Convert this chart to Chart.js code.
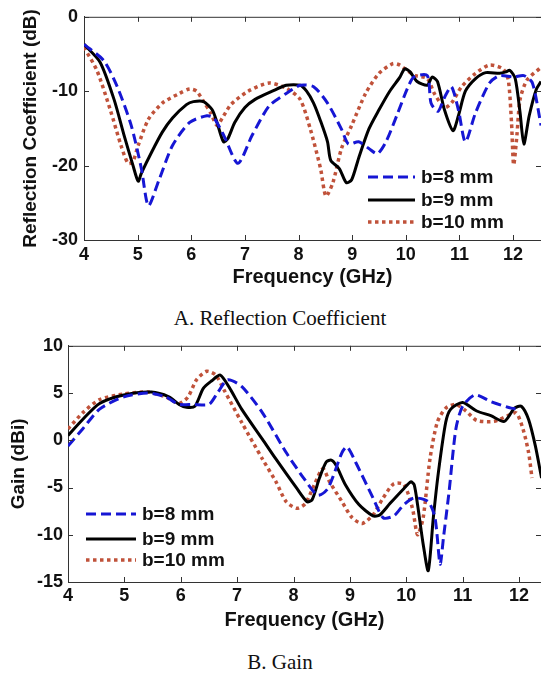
<!DOCTYPE html>
<html>
<head>
<meta charset="utf-8">
<script src="https://cdn.jsdelivr.net/npm/chart.js"></script>
<style>
  html, body { margin: 0; padding: 0; background: #fff; overflow: hidden; }
  body { width: 541px; height: 673px; position: relative; }
  canvas { position: absolute; left: 0; }
  .caption {
    position: absolute; left: 0; width: 560px; text-align: center;
    font-family: "Liberation Serif", serif; font-size: 21px; line-height: 24px; color: #111;
  }
</style>
</head>
<body>
<canvas id="s11Chart" width="541" height="290" style="top:0px"></canvas>
<div class="caption" style="top:306px">A. Reflection Coefficient</div>
<canvas id="gainChart" width="541" height="302" style="top:330px"></canvas>
<div class="caption" style="top:650px">B. Gain</div>

<script>
// series labels
const seriesLabels = ["b=8 mm", "b=9 mm", "b=10 mm"];

// reflection coefficient (dB) vs frequency (GHz)
const s11Freq8 = [4, 4.37, 4.62, 4.88, 5.07, 5.2, 5.39, 5.65, 5.97, 6.29, 6.42, 6.61, 6.87, 7.13, 7.45, 7.77, 8.03, 8.28, 8.54, 8.8, 8.93, 9.12, 9.31, 9.47, 9.63, 9.83, 10.02, 10.15, 10.4, 10.47, 10.6, 10.73, 10.85, 10.98, 11.11, 11.3, 11.56, 11.75, 12.01, 12.2, 12.36, 12.52];
const s11Val8 = [-3.7, -5.9, -9.4, -14.6, -20.4, -25.4, -22.1, -17.3, -14.2, -13.3, -13.6, -16, -19.7, -16, -12, -10.3, -9.2, -9.4, -11.6, -15.1, -17.1, -16.8, -17.7, -18.4, -16.8, -13.3, -9.8, -8.1, -7.9, -11.6, -12.7, -10.7, -9.4, -12.5, -16.8, -12.9, -8.9, -7.9, -8.1, -7.9, -8.9, -14.6];

const s11Freq9 = [4, 4.3, 4.56, 4.75, 4.91, 5.01, 5.07, 5.26, 5.46, 5.65, 5.91, 6.04, 6.23, 6.39, 6.48, 6.6, 6.68, 6.81, 7.0, 7.19, 7.51, 7.77, 8.03, 8.15, 8.28, 8.41, 8.54, 8.6, 8.76, 8.89, 8.99, 9.12, 9.31, 9.5, 9.7, 9.89, 9.98, 10.08, 10.21, 10.4, 10.49, 10.59, 10.72, 10.88, 10.98, 11.11, 11.3, 11.49, 11.75, 11.87, 11.94, 12.04, 12.13, 12.2, 12.3, 12.43, 12.52];
const s11Val9 = [-3.7, -6.1, -11.1, -16, -19.9, -22.1, -21, -18.2, -15.5, -13.6, -11.8, -11.4, -11.4, -12.5, -14.2, -16.8, -16.4, -14.2, -12.2, -11.1, -10, -9.2, -9.2, -10, -11.6, -14, -16.8, -19.3, -20.4, -22.3, -21.9, -19, -15.1, -12.5, -10, -8.1, -7, -7.4, -8.7, -9.2, -8.1, -8.7, -12.5, -15.3, -13.3, -10, -8.3, -7.5, -7.6, -7.4, -7.2, -8.3, -12.9, -17.1, -13.3, -9.8, -8.7];

const s11Freq10 = [4, 4.24, 4.49, 4.69, 4.82, 4.91, 5.01, 5.2, 5.46, 5.78, 5.97, 6.1, 6.23, 6.36, 6.48, 6.58, 6.74, 7.06, 7.45, 7.77, 8.03, 8.22, 8.41, 8.51, 8.64, 8.8, 8.99, 9.25, 9.5, 9.76, 9.89, 10.02, 10.18, 10.4, 10.53, 10.72, 10.85, 11.04, 11.3, 11.56, 11.81, 11.91, 11.97, 12.01, 12.07, 12.13, 12.26, 12.52];
const s11Val10 = [-4.1, -7.2, -12.5, -17.3, -19.7, -19.5, -17.3, -13.8, -11.6, -10.3, -9.7, -10, -11.4, -12.9, -14.6, -13.6, -11.8, -10, -8.9, -9.6, -11.1, -15.1, -20.4, -24.1, -22.3, -17.7, -14.6, -10.3, -7.6, -6.3, -6.5, -7.2, -7.9, -8.3, -10.3, -12.2, -11.6, -9.4, -7.6, -6.5, -7, -8.5, -14.2, -19.9, -16, -11.1, -8.5, -6.8];

// gain (dBi) vs frequency (GHz)
const gainFreq8 = [4, 4.26, 4.56, 4.99, 5.42, 5.73, 5.97, 6.22, 6.5, 6.65, 6.83, 7.08, 7.45, 7.87, 8.18, 8.43, 8.61, 8.86, 8.95, 9.1, 9.41, 9.59, 9.78, 9.96, 10.14, 10.39, 10.51, 10.6, 10.66, 10.76, 10.88, 11.0, 11.22, 11.5, 11.86, 12.02];
const gainVal8 = [-0.6, 1.2, 3.3, 4.6, 5, 4.6, 3.8, 3.8, 3.8, 5, 6.4, 5.7, 2.9, -1.3, -4, -5.8, -5.1, -1.3, -0.7, -2.3, -6.1, -8.2, -8, -6.8, -6.1, -6.5, -8.2, -13.1, -10.3, -5.4, 1.2, 3.6, 4.8, 4.1, 3.4, 3.3];

const gainFreq9 = [4, 4.26, 4.56, 4.99, 5.48, 5.79, 5.97, 6.1, 6.25, 6.4, 6.55, 6.7, 6.86, 7.08, 7.45, 7.69, 8.06, 8.24, 8.33, 8.46, 8.58, 8.67, 8.76, 8.92, 9.16, 9.41, 9.53, 9.71, 9.96, 10.08, 10.14, 10.2, 10.3, 10.39, 10.48, 10.57, 10.7, 10.79, 11.0, 11.25, 11.5, 11.74, 11.92, 12.04, 12.17, 12.29, 12.4];
const gainVal9 = [0.5, 2.2, 3.9, 4.8, 5.1, 4.6, 3.8, 3.5, 3.6, 5.5, 6.3, 6.9, 5.6, 3.3, 0.1, -2, -5.1, -6.5, -6.3, -4, -2.3, -2.1, -2.7, -4.7, -6.8, -8, -7.9, -6.7, -5.1, -4.4, -4.7, -6.8, -11, -13.8, -8.2, -3.4, 1.9, 3.3, 4, 3.1, 2.6, 2, 3.4, 3.6, 2.2, -0.6, -4];

const gainFreq10 = [4, 4.26, 4.56, 4.99, 5.42, 5.73, 5.97, 6.13, 6.28, 6.46, 6.62, 6.77, 7.08, 7.45, 7.69, 7.87, 8.06, 8.21, 8.37, 8.52, 8.64, 8.86, 9.04, 9.22, 9.41, 9.59, 9.78, 9.96, 10.11, 10.2, 10.3, 10.42, 10.55, 10.7, 10.88, 11.06, 11.25, 11.56, 11.8, 11.95, 12.07, 12.17, 12.23];
const gainVal10 = [1.2, 2.9, 4.3, 4.9, 5.1, 4.6, 3.9, 4.6, 6.4, 7.3, 6.9, 5.3, 1.9, -2, -4.4, -6.5, -7.2, -6.7, -4.7, -3, -4.4, -6.5, -8.2, -8.8, -7.9, -6.1, -4.6, -4.7, -7.2, -10, -8.2, -2, 1.9, 3.4, 3.8, 3.1, 2.1, 2, 2.6, 2.9, 1.2, -1.3, -4];

const BLUE = "#1616d4";
const BLACK = "#000000";
const RED = "rgb(192, 82, 58)";
const FONT = "'Liberation Sans', Arial, sans-serif";

function pts(fs, vs) {
	return fs.map((f, i) => ({ x: f, y: vs[i] }));
}

function makeDatasets(f8, v8, f9, v9, f10, v10) {
	return [
		{ label: seriesLabels[0], data: pts(f8, v8), borderColor: BLUE, borderWidth: 3, borderDash: [10, 5] },
		{ label: seriesLabels[1], data: pts(f9, v9), borderColor: BLACK, borderWidth: 3 },
		{ label: seriesLabels[2], data: pts(f10, v10), borderColor: RED, borderWidth: 3.5, borderDash: [3.5, 3.5] },
	].map(d => Object.assign(d, { pointRadius: 0, tension: 0.25, fill: false, borderCapStyle: "butt" }));
}

// matlab style box: top line + inward ticks on all sides
const frameTicks = {
	id: "frameTicks",
	afterDraw(chart) {
		const { ctx, chartArea: a, scales: { x, y } } = chart;
		ctx.save();
		ctx.strokeStyle = "#333";
		ctx.lineWidth = 1;
		ctx.beginPath();
		ctx.moveTo(a.left, a.top + 0.5);
		ctx.lineTo(a.right, a.top + 0.5);
		x.ticks.forEach(t => {
			const px = Math.round(x.getPixelForValue(t.value)) + 0.5;
			ctx.moveTo(px, a.bottom); ctx.lineTo(px, a.bottom - 5);
			ctx.moveTo(px, a.top); ctx.lineTo(px, a.top + 5);
		});
		y.ticks.forEach(t => {
			const py = Math.round(y.getPixelForValue(t.value)) + 0.5;
			ctx.moveTo(a.left, py); ctx.lineTo(a.left + 5, py);
			ctx.moveTo(a.right, py); ctx.lineTo(a.right - 5, py);
		});
		ctx.stroke();
		ctx.restore();
	}
};

// legend drawn inside the axes, no box
const innerLegend = {
	id: "innerLegend",
	afterDraw(chart, args, opts) {
		const ctx = chart.ctx;
		ctx.save();
		ctx.font = "bold 19px " + FONT;
		ctx.textBaseline = "middle";
		chart.data.datasets.forEach((ds, i) => {
			const yy = opts.rows[i];
			ctx.beginPath();
			ctx.strokeStyle = ds.borderColor;
			ctx.lineWidth = ds.borderWidth;
			ctx.setLineDash(ds.borderDash || []);
			ctx.moveTo(opts.x1, yy);
			ctx.lineTo(opts.x2, yy);
			ctx.stroke();
			ctx.setLineDash([]);
			ctx.fillStyle = "#111";
			ctx.fillText(ds.label, opts.tx, yy + 1);
		});
		ctx.restore();
	}
};

function makeOptions(cfg) {
	return {
		responsive: false,
		animation: false,
		layout: { padding: { top: 12, left: 0, right: 0, bottom: 0 } },
		plugins: {
			legend: { display: false },
			tooltip: { enabled: false },
			innerLegend: cfg.legend
		},
		scales: {
			x: {
				type: "linear",
				min: 4,
				max: cfg.xMax,
				afterFit: s => { s.height = cfg.xHeight; },
				grid: { display: false, drawTicks: false },
				border: { display: true, color: "#333", width: 1 },
				ticks: {
					stepSize: 1, includeBounds: false, padding: cfg.xPad, color: "#111",
					font: { family: FONT, size: 18, weight: "bold" }
				},
				title: {
					display: true, text: "Frequency (GHz)", color: "#111",
					padding: { top: 0, bottom: cfg.xTitlePad },
					font: { family: FONT, size: 20, weight: "bold" }
				}
			},
			y: {
				min: cfg.yMin,
				max: cfg.yMax,
				afterFit: s => { s.width = cfg.yWidth; },
				grid: { display: false, drawTicks: false },
				border: { display: true, color: "#333", width: 1 },
				ticks: {
					stepSize: cfg.yStep, padding: cfg.yPad, color: "#111",
					font: { family: FONT, size: 18, weight: "bold" }
				},
				title: {
					display: true, text: cfg.yTitle, color: "#111",
					padding: { top: cfg.yTitlePad, bottom: 0 },
					font: { family: FONT, size: 19, weight: "bold" }
				}
			}
		}
	};
}

new Chart(document.getElementById("s11Chart"), {
	type: "line",
	data: { datasets: makeDatasets(s11Freq8, s11Val8, s11Freq9, s11Val9, s11Freq10, s11Val10) },
	options: makeOptions({
		xMax: 12.52, xHeight: 50, xPad: 4, xTitlePad: 1,
		yMin: -30, yMax: 0, yStep: 10, yWidth: 84, yPad: 6, yTitlePad: 19,
		yTitle: "Reflection Coefficient (dB)",
		legend: { x1: 368, x2: 415, tx: 421, rows: [177, 200, 222] }
	}),
	plugins: [frameTicks, innerLegend]
});

new Chart(document.getElementById("gainChart"), {
	type: "line",
	data: { datasets: makeDatasets(gainFreq8, gainVal8, gainFreq9, gainVal9, gainFreq10, gainVal10) },
	options: makeOptions({
		xMax: 12.39, xHeight: 50, xPad: 3, xTitlePad: 0,
		yMin: -15, yMax: 10, yStep: 5, yWidth: 68, yPad: 5, yTitlePad: 7,
		yTitle: "Gain (dBi)",
		legend: { x1: 86, x2: 136, tx: 142, rows: [184, 209, 230] }
	}),
	plugins: [frameTicks, innerLegend]
});
</script>
</body>
</html>
